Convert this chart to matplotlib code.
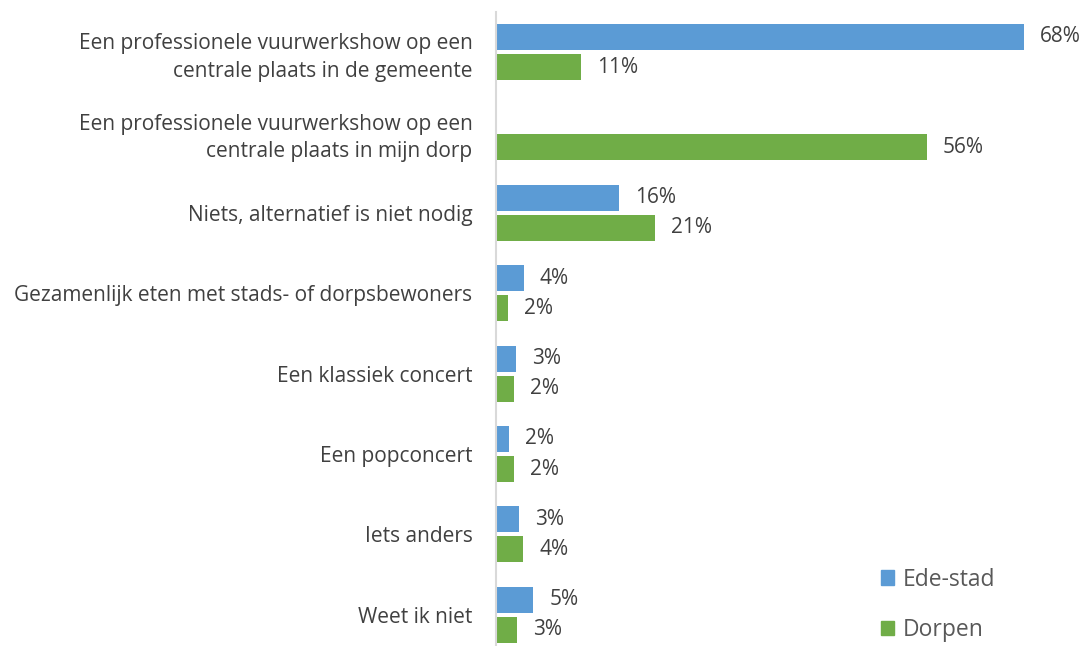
import numpy as np
import matplotlib.pyplot as plt
from matplotlib.patches import Patch

plt.rcParams['font.family'] = ['Open Sans', 'DejaVu Sans']

# categories, top to bottom
categories = [
    "Een professionele vuurwerkshow op een\ncentrale plaats in de gemeente",
    "Een professionele vuurwerkshow op een\ncentrale plaats in mijn dorp",
    "Niets, alternatief is niet nodig",
    "Gezamenlijk eten met stads- of dorpsbewoners",
    "Een klassiek concert",
    "Een popconcert",
    "Iets anders",
    "Weet ik niet",
]
# percentages (None = not asked)
ede_stad = [68.0, None, 15.9, 3.6, 2.6, 1.7, 3.0, 4.8]
dorpen = [11.0, 55.5, 20.5, 1.5, 2.3, 2.3, 3.5, 2.7]
ede_labels = ["68%", "", "16%", "4%", "3%", "2%", "3%", "5%"]
dorp_labels = ["11%", "56%", "21%", "2%", "2%", "2%", "4%", "3%"]

blue = '#5b9bd5'
green = '#70ad47'
txt = '#404040'

fig = plt.figure(figsize=(10.83, 6.46), dpi=100)
ax = fig.add_axes([496/1083, 1 - 655/646, (1024-496)/1083, (655-11.8)/646])

y = np.arange(len(categories))
h = 0.323
off = 0.187

ede_vals = [v if v is not None else 0 for v in ede_stad]
b1 = ax.barh(y - off, ede_vals, height=h, color=blue)
b2 = ax.barh(y + off, dorpen, height=h, color=green)

# value labels next to bars
for i in range(len(categories)):
    if ede_stad[i] is not None:
        ax.annotate(ede_labels[i], (ede_vals[i], y[i] - off), xytext=(11.5, 0),
                    textcoords='offset points', va='center', ha='left',
                    fontsize=15, color=txt, annotation_clip=False)
    ax.annotate(dorp_labels[i], (dorpen[i], y[i] + off), xytext=(11.5, 0),
                textcoords='offset points', va='center', ha='left',
                fontsize=15, color=txt, annotation_clip=False)

ax.set_xlim(0, 68)
ax.set_ylim(len(categories) - 0.5, -0.5)
ax.set_yticks(y)
ax.set_yticklabels(categories, fontsize=15, color=txt, linespacing=1.4)
for lab in ax.get_yticklabels():
    lab.set_va('center_baseline')
ax.tick_params(axis='y', length=0, pad=17)
ax.set_xticks([])
for s in ['top', 'right', 'bottom']:
    ax.spines[s].set_visible(False)
ax.spines['left'].set_color('#d9d9d9')
ax.spines['left'].set_linewidth(1.5)

handles = [Patch(color=blue, label='Ede-stad'), Patch(color=green, label='Dorpen')]
fig.legend(handles=handles, loc='upper left', bbox_to_anchor=(860/1083, 1 - 547/646),
           frameon=False, fontsize=16.5, labelcolor='#595959', handlelength=0.6,
           handleheight=0.6, handletextpad=0.35, labelspacing=1.15)

fig.savefig('out.png', dpi=100)
